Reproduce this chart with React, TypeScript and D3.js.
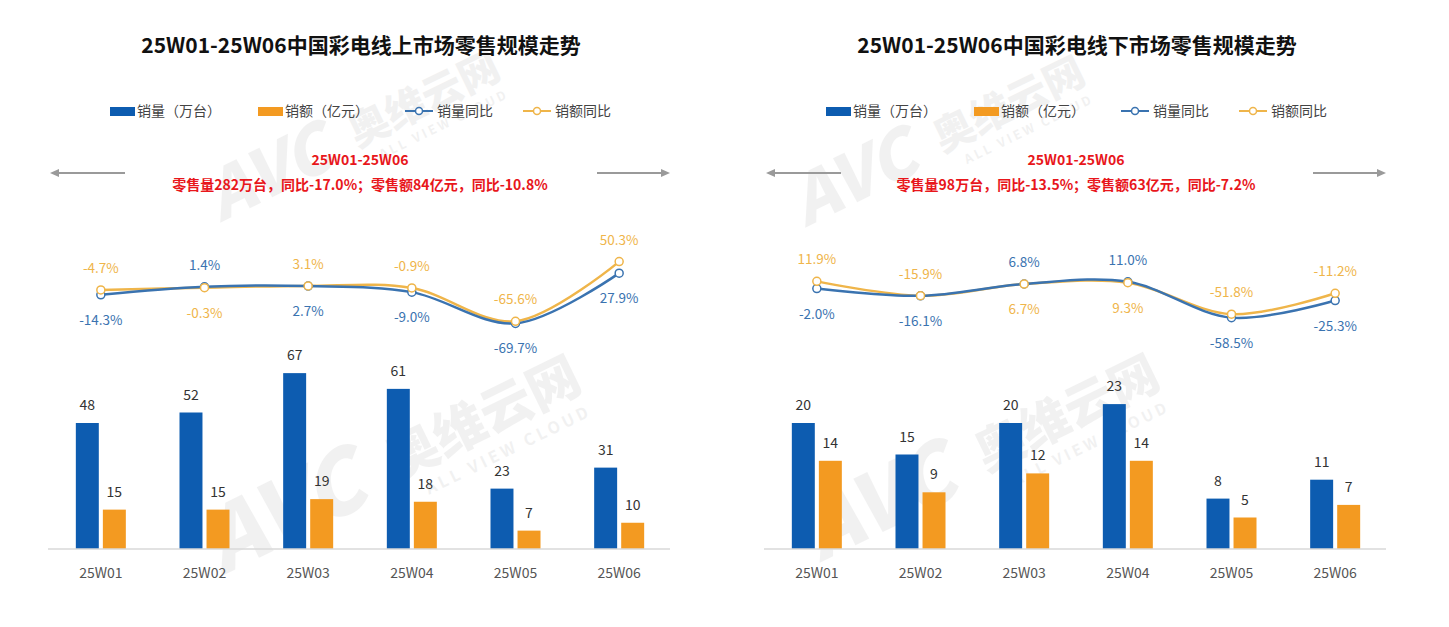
import React from 'react';
import * as d3 from 'd3';

const categories = ['25W01', '25W02', '25W03', '25W04', '25W05', '25W06'];

const onlineVolume = [48, 52, 67, 61, 23, 31];
const onlineValue = [15, 15, 19, 18, 7, 10];
const onlineVolumeYoY = [-14.3, 1.4, 2.7, -9.0, -69.7, 27.9];
const onlineValueYoY = [-4.7, -0.3, 3.1, -0.9, -65.6, 50.3];

const offlineVolume = [20, 15, 20, 23, 8, 11];
const offlineValue = [14, 9, 12, 14, 5, 7];
const offlineVolumeYoY = [-2.0, -16.1, 6.8, 11.0, -58.5, -25.3];
const offlineValueYoY = [11.9, -15.9, 6.7, 9.3, -51.8, -11.2];

const legendLabels = ['销量（万台）', '销额（亿元）', '销量同比', '销额同比'];

const onlineTitle = '25W01-25W06中国彩电线上市场零售规模走势';
const offlineTitle = '25W01-25W06中国彩电线下市场零售规模走势';
const onlineSummary = ['25W01-25W06', '零售量282万台，同比-17.0%；零售额84亿元，同比-10.8%'];
const offlineSummary = ['25W01-25W06', '零售量98万台，同比-13.5%；零售额63亿元，同比-7.2%'];

const watermarkTexts = ['AVC', '奥维云网', 'ALL VIEW CLOUD'];

const BLUE = '#0d5cb0';
const ORANGE = '#f39a21';
const BLUE_LINE = '#3a73b0';
const ORANGE_LINE = '#efb54a';
const FONT = '"Noto Sans CJK SC", "Noto Sans", sans-serif';

function Watermark({ x, y, scale }: { x: number; y: number; scale: number }) {
  return (
    <g transform={`translate(${x},${y}) rotate(-26) scale(${scale})`} fill="#000" opacity={0.05} fontFamily={FONT}>
      <text x={0} y={30} textAnchor="middle" fontSize={96} fontWeight={900} fontStyle="italic">
        {watermarkTexts[0]}
      </text>
      <text x={245} y={20} textAnchor="middle" fontSize={58} fontWeight={900}>
        {watermarkTexts[1]}
      </text>
      <text x={255} y={50} textAnchor="middle" fontSize={18} fontWeight={700} letterSpacing={4}>
        {watermarkTexts[2]}
      </text>
    </g>
  );
}

type PanelProps = {
  ox: number;
  title: string;
  summary: string[];
  volume: number[];
  value: number[];
  volYoY: number[];
  valYoY: number[];
  barMax: number;
  barSpan: number;
};

function Panel({ ox, title, summary, volume, value, volYoY, valYoY, barMax, barSpan }: PanelProps) {
  const baseline = 549;
  const x = d3.scaleBand<string>().domain(categories).range([49, 671]).padding(0);
  const inner = d3.scaleBand<string>().domain(['vol', 'val']).range([-25, 25]).paddingInner(0.15);
  const yBar = d3.scaleLinear().domain([0, barMax]).range([baseline, baseline - barSpan]);
  const yLine = d3.scaleLinear().domain([-100, 100]).range([339, 236]);
  const cx = (c: string) => (x(c) as number) + x.bandwidth() / 2;

  const line = d3
    .line<number>()
    .x((_, i) => cx(categories[i]))
    .y((d) => yLine(d))
    .curve(d3.curveCatmullRom.alpha(0.5));

  const legendY = 111;

  return (
    <g transform={`translate(${ox},0)`}>
      <text x={361} y={53} textAnchor="middle" fontSize={21} fontWeight={700} fill="#111" fontFamily={FONT}>
        {title}
      </text>

      {/* legend */}
      <g fontFamily={FONT} fontSize={14} fill="#444">
        <rect x={110} y={legendY - 4} width={25} height={9} fill={BLUE} />
        <text x={137} y={legendY + 5}>{legendLabels[0]}</text>
        <rect x={258} y={legendY - 4} width={25} height={9} fill={ORANGE} />
        <text x={285} y={legendY + 5}>{legendLabels[1]}</text>
        <line x1={405} x2={433} y1={legendY} y2={legendY} stroke={BLUE_LINE} strokeWidth={2} />
        <circle cx={419} cy={legendY} r={3.5} fill="#fff" stroke={BLUE_LINE} strokeWidth={1.5} />
        <text x={437} y={legendY + 5}>{legendLabels[2]}</text>
        <line x1={523} x2={551} y1={legendY} y2={legendY} stroke={ORANGE_LINE} strokeWidth={2} />
        <circle cx={537} cy={legendY} r={3.5} fill="#fff" stroke={ORANGE_LINE} strokeWidth={1.5} />
        <text x={555} y={legendY + 5}>{legendLabels[3]}</text>
      </g>

      {/* arrows */}
      <g stroke="#9a9a9a" strokeWidth={2} fill="#9a9a9a">
        <line x1={58} x2={125} y1={173} y2={173} />
        <path d="M50,173 L59,169 L59,177 Z" stroke="none" />
        <line x1={597} x2={662} y1={173} y2={173} />
        <path d="M670,173 L661,169 L661,177 Z" stroke="none" />
      </g>

      {/* summary */}
      <g fontFamily={FONT} fontSize={14} fontWeight={700} fill="#e8161b" textAnchor="middle">
        <text x={360} y={165}>{summary[0]}</text>
        <text x={360} y={190}>{summary[1]}</text>
      </g>

      {/* bars */}
      {categories.map((c, i) => (
        <g key={c}>
          <rect
            x={cx(c) + (inner('vol') as number)}
            y={yBar(volume[i])}
            width={inner.bandwidth()}
            height={baseline - yBar(volume[i])}
            fill={BLUE}
          />
          <rect
            x={cx(c) + (inner('val') as number)}
            y={yBar(value[i])}
            width={inner.bandwidth()}
            height={baseline - yBar(value[i])}
            fill={ORANGE}
          />
          <text
            x={cx(c) + (inner('vol') as number) + inner.bandwidth() / 2}
            y={yBar(volume[i]) - 13}
            textAnchor="middle"
            fontSize={14}
            fill="#333"
            fontFamily={FONT}
          >
            {volume[i]}
          </text>
          <text
            x={cx(c) + (inner('val') as number) + inner.bandwidth() / 2}
            y={yBar(value[i]) - 13}
            textAnchor="middle"
            fontSize={14}
            fill="#333"
            fontFamily={FONT}
          >
            {value[i]}
          </text>
          <text x={cx(c)} y={578} textAnchor="middle" fontSize={14} fill="#555" fontFamily={FONT}>
            {c}
          </text>
        </g>
      ))}
      <line x1={48} x2={670} y1={baseline} y2={baseline} stroke="#d9d9d9" strokeWidth={1.5} />

      {/* lines */}
      <path d={line(valYoY) || ''} fill="none" stroke={ORANGE_LINE} strokeWidth={2.5} />
      <path d={line(volYoY) || ''} fill="none" stroke={BLUE_LINE} strokeWidth={2.5} />
      {categories.map((c, i) => (
        <g key={'p' + c}>
          <circle cx={cx(c)} cy={yLine(volYoY[i])} r={4} fill="#fff" stroke={BLUE_LINE} strokeWidth={1.5} />
          <circle cx={cx(c)} cy={yLine(valYoY[i])} r={4} fill="#fff" stroke={ORANGE_LINE} strokeWidth={1.5} />
        </g>
      ))}
      {categories.map((c, i) => {
        const volTop = volYoY[i] > valYoY[i];
        const fmt = (v: number) => v.toFixed(1) + '%';
        const volY = volTop ? yLine(volYoY[i]) - 17 : yLine(volYoY[i]) + 30;
        const valY = volTop ? yLine(valYoY[i]) + 30 : yLine(valYoY[i]) - 17;
        return (
          <g key={'l' + c} fontFamily={FONT} fontSize={13.5} textAnchor="middle">
            <text x={cx(c)} y={volY} fill={BLUE_LINE}>{fmt(volYoY[i])}</text>
            <text x={cx(c)} y={valY} fill={ORANGE_LINE}>{fmt(valYoY[i])}</text>
          </g>
        );
      })}
    </g>
  );
}

export default function App() {
  return (
    <svg
      width={1449}
      height={627}
      style={{ position: 'absolute', left: 0, top: 0, background: '#fff' }}
    >
      <rect width={1449} height={627} fill="#fff" />
      <Watermark x={285} y={515} scale={0.9} />
      <Watermark x={270} y={175} scale={0.7} />
      <Watermark x={880} y={505} scale={0.85} />
      <Watermark x={855} y={180} scale={0.7} />
      <Panel
        ox={0}
        title={onlineTitle}
        summary={onlineSummary}
        volume={onlineVolume}
        value={onlineValue}
        volYoY={onlineVolumeYoY}
        valYoY={onlineValueYoY}
        barMax={80}
        barSpan={210}
      />
      <Panel
        ox={716}
        title={offlineTitle}
        summary={offlineSummary}
        volume={offlineVolume}
        value={offlineValue}
        volYoY={offlineVolumeYoY}
        valYoY={offlineValueYoY}
        barMax={30}
        barSpan={189}
      />
    </svg>
  );
}
